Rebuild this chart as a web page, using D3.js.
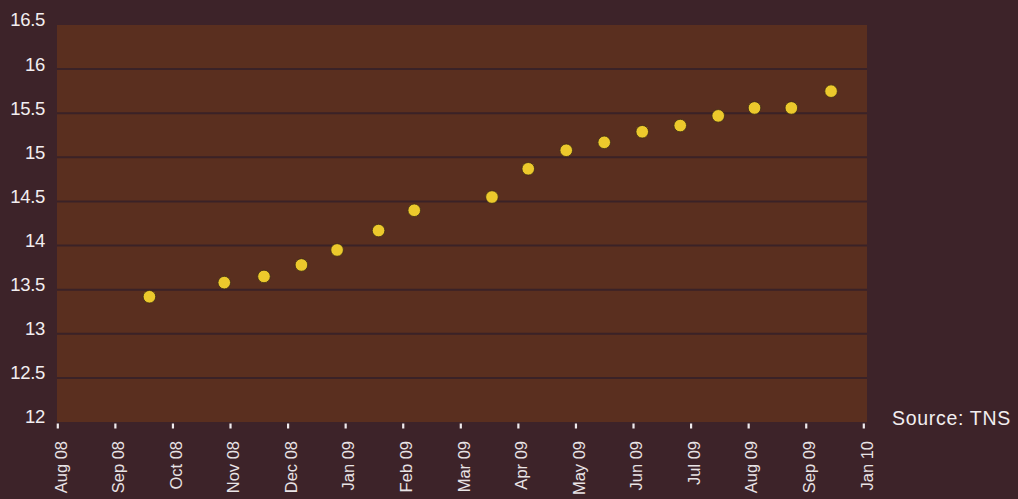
<!DOCTYPE html>
<html>
<head>
<meta charset="utf-8">
<script src="https://cdn.jsdelivr.net/npm/d3@7"></script>
<style>
  html, body { margin: 0; padding: 0; background: #3d2329; }
  svg { display: block; }
</style>
</head>
<body>
<svg id="chart" width="1018" height="499"></svg>
<script>
// Month tick labels along the bottom axis (evenly spaced)
const monthLabels = ["Aug 08", "Sep 08", "Oct 08", "Nov 08", "Dec 08", "Jan 09", "Feb 09",
  "Mar 09", "Apr 09", "May 09", "Jun 09", "Jul 09", "Aug 09", "Sep 09", "Jan 10"];

// Reading periods, expressed as position along the month axis (0 = Aug 08)
const periodPos = [1.6, 2.9, 3.59, 4.24, 4.86, 5.58, 6.2, 7.55, 8.18, 8.84,
  9.5, 10.16, 10.82, 11.48, 12.11, 12.75, 13.44];

// Value for each period
const values = [13.42, 13.58, 13.65, 13.78, 13.95, 14.17, 14.40, 14.55, 14.87, 15.08,
  15.17, 15.29, 15.36, 15.47, 15.56, 15.56, 15.75];

// Y axis ticks
const yTicks = [12, 12.5, 13, 13.5, 14, 14.5, 15, 15.5, 16, 16.5];

const sourceText = "Source: TNS";

const svg = d3.select("#chart");
const plot = { left: 57, right: 867, top: 25, bottom: 422 };

const x = d3.scaleLinear().domain([0, monthLabels.length - 1]).range([57.3, 863.3]);
const y = d3.scaleLinear().domain([12, 16.5]).range([plot.bottom, plot.top]);

// Plot background
svg.append("rect")
  .attr("x", plot.left).attr("y", plot.top)
  .attr("width", plot.right - plot.left).attr("height", plot.bottom - plot.top)
  .attr("fill", "#5a2f1f");

// Horizontal gridlines
svg.append("g").selectAll("line")
  .data(yTicks.filter(v => v > 12 && v < 16.5))
  .join("line")
  .attr("x1", plot.left).attr("x2", plot.right)
  .attr("y1", d => y(d)).attr("y2", d => y(d))
  .attr("stroke", "#3a2227").attr("stroke-width", 2);

// Y axis labels
const yAxis = d3.axisLeft(y).tickValues(yTicks).tickSize(0).tickPadding(0)
  .tickFormat(d => String(d));
svg.append("g")
  .attr("transform", "translate(45,-5)")
  .call(yAxis)
  .call(g => g.select(".domain").remove())
  .call(g => g.selectAll("text")
    .attr("fill", "#f2eef0")
    .attr("font-family", "'Liberation Sans', Arial, sans-serif")
    .attr("font-size", 18.5)
    .attr("letter-spacing", -0.3));

// X axis: short white tick marks and rotated month labels
const xAxis = d3.axisBottom(x)
  .tickValues(d3.range(monthLabels.length))
  .tickFormat(i => monthLabels[i])
  .tickSize(0);
const gx = svg.append("g")
  .attr("transform", `translate(0,${plot.bottom})`)
  .call(xAxis)
  .call(g => g.select(".domain").remove());
gx.selectAll(".tick").append("line")
  .attr("y1", 1.5).attr("y2", 6.5)
  .attr("stroke", "#f0ecee").attr("stroke-width", 2.2);
gx.selectAll(".tick text")
  .attr("fill", "#e9e4e6")
  .attr("font-family", "'Liberation Sans', Arial, sans-serif")
  .attr("font-size", 16.5)
  .attr("text-anchor", "end")
  .attr("dy", "0.35em")
  .attr("transform", "translate(0,19) rotate(-90)");

// Data points
svg.append("g").selectAll("circle")
  .data(values)
  .join("circle")
  .attr("cx", (d, i) => x(periodPos[i]))
  .attr("cy", d => y(d))
  .attr("r", 6.3)
  .attr("fill", "#ecc92c")
  .attr("stroke", "#3b2a14")
  .attr("stroke-width", 0.8);

// Source note
svg.append("text")
  .attr("x", 892).attr("y", 425)
  .attr("fill", "#f2eef0")
  .attr("font-family", "'Liberation Sans', Arial, sans-serif")
  .attr("font-size", 19.5)
  .attr("letter-spacing", 0.7)
  .text(sourceText);
</script>
</body>
</html>
